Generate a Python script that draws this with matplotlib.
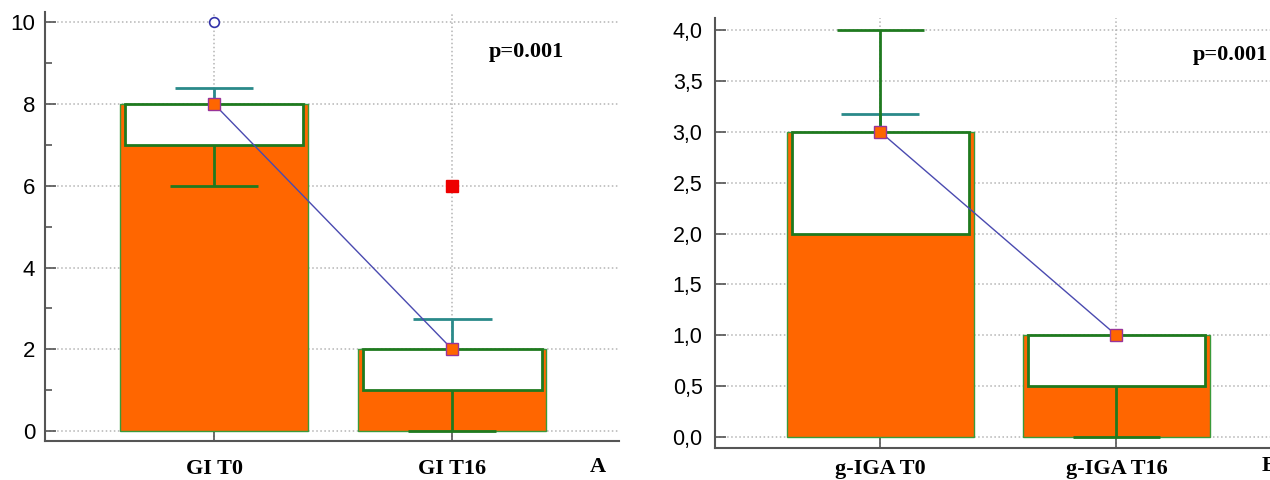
import numpy as np
import matplotlib.pyplot as plt
from matplotlib.ticker import MultipleLocator, FuncFormatter

# panel A: GI
gi_labels = ['GI T0', 'GI T16']
gi_bar = [8, 2]
gi_q1 = [7, 1]
gi_q3 = [8, 2]
gi_median = [8, 2]
gi_whisk_lo = [6, 0]
gi_whisk_hi = [8, 2]
gi_upper = [8.4, 2.75]
gi_out_x = [0]
gi_out_y = [10]
gi_far_x = [1]
gi_far_y = [6]

# panel B: g-IGA
iga_labels = ['g-IGA T0', 'g-IGA T16']
iga_bar = [3, 1]
iga_q1 = [2, 0.5]
iga_q3 = [3, 1]
iga_median = [3, 1]
iga_whisk_lo = [2, 0]
iga_whisk_hi = [4, 1]
iga_upper = [3.18, 1]

ORANGE = '#ff6600'
GREEN = '#1f7a1f'
TEAL = '#2a8a8a'
GRID = '#b4b4b4'
SPINE = '#555555'


def draw_panel(ax, labels, bar, q1, q3, median, wlo, whi, upper, xpad):
    x = np.arange(len(labels))
    ax.bar(x, bar, width=0.79, color=ORANGE, edgecolor='#3a9a3a', linewidth=1, zorder=2)
    ax.bar(x, np.subtract(q3, q1), bottom=q1, width=0.75, color='white',
           edgecolor=GREEN, linewidth=2, zorder=3)
    # teal upper bar
    ax.vlines(x, median, upper, color=TEAL, linewidth=2, zorder=4)
    for xi, u, m in zip(x, upper, median):
        if u > m:
            ax.hlines(u, xi - 0.165, xi + 0.165, color=TEAL, linewidth=2, zorder=4)
    # whiskers
    ax.vlines(x, wlo, q1, color=GREEN, linewidth=2, zorder=4)
    ax.vlines(x, q3, whi, color=GREEN, linewidth=2, zorder=4)
    for xi, lo, b in zip(x, wlo, q1):
        if lo < b:
            ax.hlines(lo, xi - 0.185, xi + 0.185, color=GREEN, linewidth=2, zorder=4)
    for xi, hi, t in zip(x, whi, q3):
        if hi > t:
            ax.hlines(hi, xi - 0.185, xi + 0.185, color=GREEN, linewidth=2, zorder=4)
    ax.plot(x, median, color='#4a4ab0', linewidth=1, zorder=5)
    ax.plot(x, median, 's', markersize=9, markerfacecolor=ORANGE,
            markeredgecolor='#993399', markeredgewidth=1, linestyle='none', zorder=6)

    ax.set_xticks(x)
    ax.set_xticklabels(labels, fontfamily='Liberation Serif', fontweight='bold', fontsize=16)
    ax.set_axisbelow(True)
    ax.grid(True, which='major', linestyle=':', color=GRID, linewidth=1.1)
    for s in ['top', 'right']:
        ax.spines[s].set_visible(False)
    for s in ['left', 'bottom']:
        ax.spines[s].set_color(SPINE)
        ax.spines[s].set_linewidth(1.5)
    ax.tick_params(axis='x', direction='in', length=10, width=1.2, color=SPINE, pad=xpad)
    ax.tick_params(axis='y', direction='in', length=8, width=1.2, color=SPINE)


fig = plt.figure(figsize=(12.7, 4.8), dpi=100)

ax1 = fig.add_axes([45 / 1270, 39 / 480, 574 / 1270, 429 / 480])
draw_panel(ax1, gi_labels, gi_bar, gi_q1, gi_q3, gi_median, gi_whisk_lo, gi_whisk_hi,
           gi_upper, 13)
ax1.plot(gi_out_x, gi_out_y, 'o', markersize=7, markerfacecolor='white',
         markeredgecolor='#3333aa', markeredgewidth=1.2, zorder=6)
ax1.plot(gi_far_x, gi_far_y, 's', markersize=8, color='#ee0000', zorder=6)
ax1.set_xlim(-0.71, 1.70)
ax1.set_ylim(-0.24, 10.25)
ax1.yaxis.set_major_locator(MultipleLocator(2))
ax1.yaxis.set_minor_locator(MultipleLocator(1))
ax1.tick_params(axis='y', which='minor', direction='in', length=5, width=1.2, color=SPINE)
ax1.tick_params(axis='y', labelsize=16, pad=7)
for t in ax1.get_yticklabels():
    t.set_fontfamily('Liberation Sans')

ax2 = fig.add_axes([715 / 1270, 32 / 480, 555 / 1270, 430 / 480])
draw_panel(ax2, iga_labels, iga_bar, iga_q1, iga_q3, iga_median, iga_whisk_lo, iga_whisk_hi,
           iga_upper, 8)
ax2.set_xlim(-0.70, 1.65)
ax2.set_ylim(-0.108, 4.12)
ax2.yaxis.set_major_locator(MultipleLocator(0.5))
ax2.yaxis.set_major_formatter(FuncFormatter(lambda v, p: f'{v:.1f}'.replace('.', ',')))
ax2.tick_params(axis='y', labelsize=15.5, pad=9)
for t in ax2.get_yticklabels():
    t.set_fontfamily('Liberation Sans')

fig.text(489 / 1270, 1 - 52 / 480, 'p=0.001', fontfamily='Liberation Serif',
         fontweight='bold', fontsize=16, va='center', ha='left')
fig.text(1193 / 1270, 1 - 55 / 480, 'p=0.001', fontfamily='Liberation Serif',
         fontweight='bold', fontsize=16, va='center', ha='left')
fig.text(598 / 1270, 1 - 467 / 480, 'A', fontfamily='Liberation Serif', fontweight='bold',
         fontsize=16, ha='center', va='center')
fig.text(1262 / 1270, 1 - 466 / 480, 'B', fontfamily='Liberation Serif', fontweight='bold',
         fontsize=16, ha='left', va='center')

fig.savefig('out.png', dpi=100)
